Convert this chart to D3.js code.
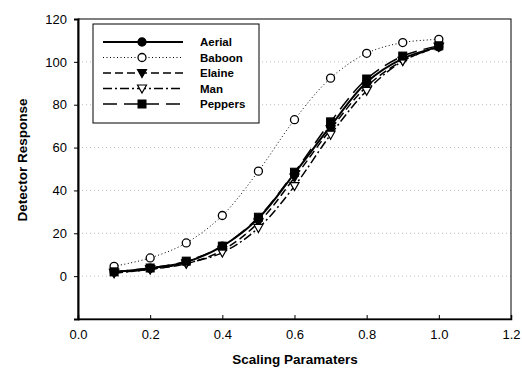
<!DOCTYPE html>
<html>
<head>
<meta charset="utf-8">
<script src="https://cdn.jsdelivr.net/npm/d3@7"></script>
<style>
  body { margin: 0; background: #fff; }
  text { font-family: Arial, "Liberation Sans", sans-serif; fill: #000; }
</style>
</head>
<body>
<div id="chart"></div>
<script>
// data
const scaling = [0.1, 0.2, 0.3, 0.4, 0.5, 0.6, 0.7, 0.8, 0.9, 1.0];
const aerial  = [2, 3.7, 6.6, 14, 27, 48, 70, 90.5, 101.5, 107];
const baboon  = [4.6, 8.5, 15.5, 28.3, 49, 73, 92.4, 104, 109, 110.5];
const elaine  = [1.5, 3.2, 5.8, 12, 25, 46, 68.5, 88.5, 100.5, 107];
const man     = [1.5, 3.2, 6, 11, 22.5, 42, 66, 86.5, 100.4, 107];
const peppers = [2, 3.8, 7, 14, 27.5, 48.5, 72, 92, 102.7, 107.5];
const xTicks = [0.0, 0.2, 0.4, 0.6, 0.8, 1.0, 1.2];
const yTicks = [0, 20, 40, 60, 80, 100, 120];

const series = [
  { name: 'Aerial',  values: aerial,  dash: null,         width: 2,   marker: 'circle',   fill: '#000' },
  { name: 'Baboon',  values: baboon,  dash: '1,2.5',      width: 1,   marker: 'circle',   fill: '#fff' },
  { name: 'Elaine',  values: elaine,  dash: '8,4',        width: 1.5, marker: 'triangle', fill: '#000' },
  { name: 'Man',     values: man,     dash: '9,3,2,3',    width: 1.5, marker: 'triangle', fill: '#fff' },
  { name: 'Peppers', values: peppers, dash: '14,7',       width: 1.5, marker: 'square',   fill: '#000' }
];

const width = 522, height = 369;
const margin = { left: 78, right: 11, top: 19, bottom: 50 };

const svg = d3.select('#chart')
  .append('svg')
  .attr('width', width)
  .attr('height', height);

const x = d3.scaleLinear().domain([0, 1.2]).range([margin.left, width - margin.right]);
const y = d3.scaleLinear().domain([-20, 120]).range([height - margin.bottom, margin.top]);

// Gridlines
svg.append('g')
  .selectAll('line')
  .data(yTicks.filter(d => d < 120))
  .enter()
  .append('line')
  .attr('x1', x(0)).attr('x2', x(1.2))
  .attr('y1', d => y(d)).attr('y2', d => y(d))
  .attr('stroke', '#aaa')
  .attr('stroke-width', 0.8)
  .attr('stroke-dasharray', '1,3');

// Plot frame
svg.append('rect')
  .attr('x', x(0)).attr('y', y(120))
  .attr('width', x(1.2) - x(0))
  .attr('height', y(-20) - y(120))
  .attr('fill', 'none')
  .attr('stroke', '#000')
  .attr('stroke-width', 1);

// Y axis
const yAxis = svg.append('g')
  .attr('transform', `translate(${x(0)},0)`)
  .call(d3.axisLeft(y).tickValues(yTicks).tickSize(4).tickFormat(d3.format('d')));
yAxis.select('.domain').attr('stroke-width', 2);
yAxis.selectAll('text').attr('font-size', 13).attr('dx', -4);

// X axis
const xAxis = svg.append('g')
  .attr('transform', `translate(0,${y(-20)})`)
  .call(d3.axisBottom(x).tickValues(xTicks).tickSize(-4).tickPadding(11).tickFormat(d3.format('.1f')));
xAxis.select('.domain').attr('stroke-width', 1.5);
xAxis.selectAll('text').attr('font-size', 13);

// Axis titles
svg.append('text')
  .attr('x', 295)
  .attr('y', 364)
  .attr('text-anchor', 'middle')
  .attr('font-size', 13.5)
  .attr('font-weight', 'bold')
  .text('Scaling Paramaters');

svg.append('text')
  .attr('transform', 'translate(27,160) rotate(-90)')
  .attr('text-anchor', 'middle')
  .attr('font-size', 13.5)
  .attr('font-weight', 'bold')
  .text('Detector Response');

function drawMarker(g, type, fill, cx, cy) {
  if (type === 'circle') {
    g.append('circle').attr('cx', cx).attr('cy', cy).attr('r', 4)
      .attr('fill', fill).attr('stroke', '#000').attr('stroke-width', 1.3);
  } else if (type === 'square') {
    g.append('rect').attr('x', cx - 4).attr('y', cy - 4).attr('width', 8).attr('height', 8)
      .attr('fill', fill).attr('stroke', '#000').attr('stroke-width', 1);
  } else {
    g.append('path')
      .attr('d', `M${cx - 4.5},${cy - 3.5}L${cx + 4.5},${cy - 3.5}L${cx},${cy + 4.5}Z`)
      .attr('fill', fill).attr('stroke', '#000').attr('stroke-width', 1.2);
  }
}

// Lines
const line = d3.line()
  .x(d => x(d[0]))
  .y(d => y(d[1]))
  .curve(d3.curveCatmullRom.alpha(0.5));

series.forEach(s => {
  const pts = scaling.map((v, i) => [v, s.values[i]]);
  svg.append('path')
    .datum(pts)
    .attr('d', line)
    .attr('fill', 'none')
    .attr('stroke', '#000')
    .attr('stroke-width', s.width)
    .attr('stroke-dasharray', s.dash);
  const mg = svg.append('g');
  pts.forEach(p => drawMarker(mg, s.marker, s.fill, x(p[0]), y(p[1])));
});

// Legend
const legend = svg.append('g');
legend.append('rect')
  .attr('x', 93).attr('y', 24).attr('width', 166).attr('height', 99)
  .attr('fill', '#fff').attr('stroke', '#000').attr('stroke-width', 1);

series.forEach((s, i) => {
  const ly = 42 + i * 15.5;
  legend.append('line')
    .attr('x1', 103).attr('x2', 183)
    .attr('y1', ly).attr('y2', ly)
    .attr('stroke', '#000')
    .attr('stroke-width', s.width)
    .attr('stroke-dasharray', s.dash);
  drawMarker(legend, s.marker, s.fill, 142, ly);
  legend.append('text')
    .attr('x', 200).attr('y', ly + 4)
    .attr('font-size', 11.5)
    .attr('font-weight', 'bold')
    .text(s.name);
});
</script>
</body>
</html>
